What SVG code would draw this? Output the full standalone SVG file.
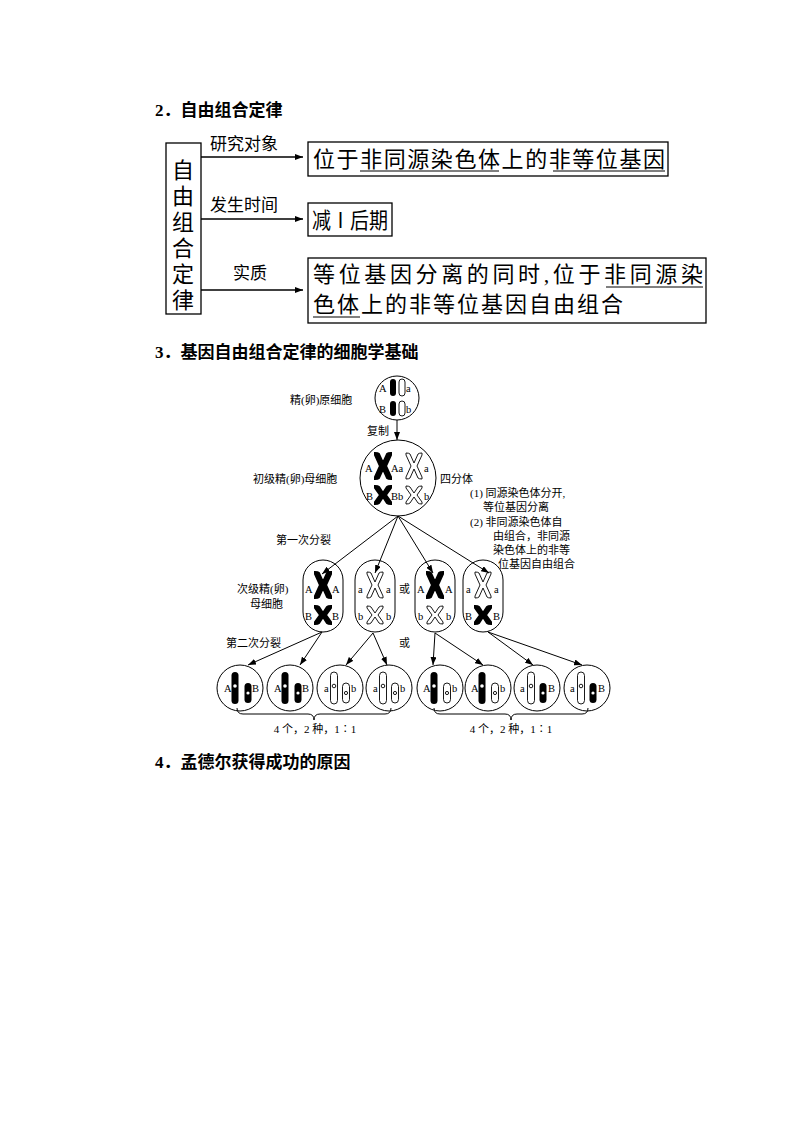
<svg xmlns="http://www.w3.org/2000/svg" width="794" height="1123" viewBox="0 0 794 1123">
<style>
.t{font-family:"Liberation Serif","Noto Sans CJK SC",serif;fill:#000}
.h{font-family:"Liberation Serif","Noto Sans CJK SC",serif;font-weight:bold;font-size:17px}
.b{fill:none;stroke:#000;stroke-width:1.3}
.c{fill:none;stroke:#000;stroke-width:1}
.l{fill:#fff;stroke:#000;stroke-width:0.9}
.k{fill:#000}
.s{font-size:11px}
.g{font-size:10.5px}
</style>
<defs>
<marker id="ar" markerWidth="8" markerHeight="6" refX="8" refY="3" orient="auto" markerUnits="userSpaceOnUse"><path d="M0,0L8,3L0,6z" fill="#000"/></marker>
<g id="bx"><path d="M-8,-13Q-5,-13 -4,-12L0,-3L4,-12Q5,-13 8,-13L8,-11L3,0L8,11L8,13Q5,13 4,12L0,3L-4,12Q-5,13 -8,13L-8,11L-3,0L-8,-11z" class="k" stroke="#000" stroke-width="2"/></g>
<g id="wx"><path d="M-8,-13Q-5,-13 -4,-12L0,-3L4,-12Q5,-13 8,-13L8,-11L3,0L8,11L8,13Q5,13 4,12L0,3L-4,12Q-5,13 -8,13L-8,11L-3,0L-8,-11z" class="l"/></g>
<g id="bxs"><path d="M-8,-9Q-5,-9 -4,-8L0,-2L4,-8Q5,-9 8,-9L8,-7L3,0L8,7L8,9Q5,9 4,8L0,2L-4,8Q-5,9 -8,9L-8,7L-3,0L-8,-7z" class="k" stroke="#000" stroke-width="2"/></g>
<g id="wxs"><path d="M-8,-9Q-5,-9 -4,-8L0,-2L4,-8Q5,-9 8,-9L8,-7L3,0L8,7L8,9Q5,9 4,8L0,2L-4,8Q-5,9 -8,9L-8,7L-3,0L-8,-7z" class="l"/></g>
<g id="bl"><rect x="-3.5" y="-16" width="7" height="32" rx="3.5" class="k"/><circle cx="0" cy="-2" r="1.8" fill="#fff"/></g>
<g id="wl"><rect x="-3.5" y="-16" width="7" height="32" rx="3.5" class="l"/><circle cx="0" cy="-2" r="1.8" class="l"/></g>
<g id="bsh"><rect x="-3.5" y="-10" width="7" height="20" rx="3.5" class="k"/><circle cx="0" cy="0" r="1.6" fill="#fff"/></g>
<g id="wsh"><rect x="-3.5" y="-10" width="7" height="20" rx="3.5" class="l"/><circle cx="0" cy="0" r="1.6" class="l"/></g>
</defs>

<text class="h" x="155" y="116">2．自由组合定律</text>

<g id="law-box">
<rect class="b" x="166" y="143" width="35" height="171"/>
<text class="t" font-size="22" x="172" y="178">自</text>
<text class="t" font-size="22" x="172" y="204">由</text>
<text class="t" font-size="22" x="172" y="230">组</text>
<text class="t" font-size="22" x="172" y="256">合</text>
<text class="t" font-size="22" x="172" y="282">定</text>
<text class="t" font-size="22" x="172" y="308">律</text>
</g>
<g id="conn1">
<line class="b" x1="201" y1="157" x2="303" y2="157" marker-end="url(#ar)"/>
<line class="b" x1="201" y1="219" x2="303" y2="219" marker-end="url(#ar)"/>
<line class="b" x1="201" y1="290" x2="303" y2="290" marker-end="url(#ar)"/>
<text class="t" font-size="17" x="210" y="150">研究对象</text>
<text class="t" font-size="17" x="210" y="211">发生时间</text>
<text class="t" font-size="17" x="233" y="279">实质</text>
</g>
<g id="box1">
<rect class="b" x="308" y="142" width="360" height="34"/>
<text class="t" font-size="22" x="313" y="167" textLength="352" lengthAdjust="spacing">位于非同源染色体上的非等位基因</text>
<line class="c" x1="360" y1="171" x2="499" y2="171"/>
<line class="c" x1="553" y1="171" x2="665" y2="171"/>
</g>
<g id="box2">
<rect class="b" x="308" y="203" width="84" height="33"/>
<text class="t" font-size="22" x="312" y="228" textLength="76" lengthAdjust="spacingAndGlyphs">减Ⅰ后期</text>
</g>
<g id="box3">
<rect class="b" x="308" y="258" width="398" height="65"/>
<text class="t" font-size="22" x="313" y="282" textLength="390" lengthAdjust="spacing">等位基因分离的同时,位于非同源染</text>
<text class="t" font-size="22" x="313" y="312" textLength="310" lengthAdjust="spacing">色体上的非等位基因自由组合</text>
<line class="c" x1="606" y1="287" x2="703" y2="287"/>
<line class="c" x1="313" y1="317" x2="360" y2="317"/>
</g>

<text class="h" x="155" y="358">3．基因自由组合定律的细胞学基础</text>

<g id="cell0">
<circle class="c" cx="397" cy="398" r="22"/>
<rect x="390" y="379" width="6" height="17" rx="3" class="k"/>
<rect x="399" y="379" width="6" height="17" rx="3" class="l"/>
<rect x="390" y="401" width="6" height="15" rx="3" class="k"/>
<rect x="399" y="401" width="6" height="15" rx="3" class="l"/>
<text class="t g" x="379" y="392">A</text><text class="t g" x="406" y="392">a</text>
<text class="t g" x="379" y="413">B</text><text class="t g" x="406" y="413">b</text>
<text class="t s" x="290" y="404">精(卵)原细胞</text>
</g>
<g id="cell1">
<circle class="c" cx="398" cy="478" r="38"/>
<use href="#bx" x="383" y="466"/><use href="#wx" x="414" y="466"/>
<use href="#bxs" x="383" y="495"/><use href="#wxs" x="414" y="495"/>
<text class="t g" x="365" y="472">A</text><text class="t g" x="391" y="472">Aa</text><text class="t g" x="424" y="472">a</text>
<text class="t g" x="366" y="500">B</text><text class="t g" x="391" y="500">Bb</text><text class="t g" x="424" y="500">b</text>
<text class="t s" x="253" y="483">初级精(卵)母细胞</text>
<text class="t s" x="440" y="483">四分体</text>
</g>
<g id="notes">
<text class="t s" x="470" y="497">(1) 同源染色体分开,</text>
<text class="t s" x="483" y="511">等位基因分离</text>
<text class="t s" x="470" y="526">(2) 非同源染色体自</text>
<text class="t s" x="493" y="540">由组合，非同源</text>
<text class="t s" x="493" y="554">染色体上的非等</text>
<text class="t s" x="498" y="568">位基因自由组合</text>
</g>

<g id="sec-cells">
<rect class="c" x="303" y="560" width="40" height="72" rx="20"/>
<use href="#bx" x="323" y="585"/><use href="#bxs" x="323" y="615"/>
<text class="t g" x="305" y="593">A</text><text class="t g" x="332" y="593">A</text>
<text class="t g" x="305" y="620">B</text><text class="t g" x="332" y="620">B</text>
<rect class="c" x="355" y="560" width="40" height="72" rx="20"/>
<use href="#wx" x="375" y="585"/><use href="#wxs" x="375" y="615"/>
<text class="t g" x="358" y="593">a</text><text class="t g" x="386" y="593">a</text>
<text class="t g" x="358" y="620">b</text><text class="t g" x="386" y="620">b</text>
<rect class="c" x="415" y="560" width="40" height="72" rx="20"/>
<use href="#bx" x="435" y="585"/><use href="#wxs" x="435" y="615"/>
<text class="t g" x="417" y="593">A</text><text class="t g" x="445" y="593">A</text>
<text class="t g" x="418" y="620">b</text><text class="t g" x="446" y="620">b</text>
<rect class="c" x="463" y="560" width="40" height="72" rx="20"/>
<use href="#wx" x="483" y="585"/><use href="#bxs" x="483" y="615"/>
<text class="t g" x="466" y="593">a</text><text class="t g" x="494" y="593">a</text>
<text class="t g" x="465" y="620">B</text><text class="t g" x="493" y="620">B</text>
<text class="t s" x="237" y="593">次级精(卵)</text>
<text class="t s" x="250" y="608">母细胞</text>
<text class="t s" x="399" y="593">或</text>
</g>

<g id="gametes">
<circle class="c" cx="240" cy="688" r="23"/><use href="#bl" x="235" y="688"/><use href="#bsh" x="248" y="693"/><text class="t g" x="224" y="692">A</text><text class="t g" x="252" y="692">B</text>
<circle class="c" cx="290" cy="688" r="23"/><use href="#bl" x="285" y="688"/><use href="#bsh" x="298" y="693"/><text class="t g" x="274" y="692">A</text><text class="t g" x="302" y="692">B</text>
<circle class="c" cx="340" cy="688" r="23"/><use href="#wl" x="334" y="688"/><use href="#wsh" x="346" y="693"/><text class="t g" x="324" y="692">a</text><text class="t g" x="351" y="692">b</text>
<circle class="c" cx="389" cy="688" r="23"/><use href="#wl" x="383" y="688"/><use href="#wsh" x="395" y="693"/><text class="t g" x="373" y="692">a</text><text class="t g" x="400" y="692">b</text>
<circle class="c" cx="440" cy="688" r="23"/><use href="#bl" x="434" y="688"/><use href="#wsh" x="447" y="693"/><text class="t g" x="423" y="692">A</text><text class="t g" x="452" y="692">b</text>
<circle class="c" cx="488" cy="688" r="23"/><use href="#bl" x="482" y="688"/><use href="#wsh" x="495" y="693"/><text class="t g" x="471" y="692">A</text><text class="t g" x="500" y="692">b</text>
<circle class="c" cx="537" cy="688" r="23"/><use href="#wl" x="531" y="688"/><use href="#bsh" x="543" y="693"/><text class="t g" x="520" y="692">a</text><text class="t g" x="548" y="692">B</text>
<circle class="c" cx="587" cy="688" r="23"/><use href="#wl" x="581" y="688"/><use href="#bsh" x="593" y="693"/><text class="t g" x="570" y="692">a</text><text class="t g" x="598" y="692">B</text>
<path class="c" d="M237,708Q237,714 243,714L308,714Q314,714 314,720Q314,714 320,714L385,714Q391,714 391,708"/>
<path class="c" d="M434,708Q434,714 440,714L505,714Q511,714 511,720Q511,714 517,714L582,714Q588,714 588,708"/>
<text class="t s" x="315" y="733" text-anchor="middle">4 个，2 种，1∶1</text>
<text class="t s" x="511" y="733" text-anchor="middle">4 个，2 种，1∶1</text>
<text class="t s" x="226" y="647">第二次分裂</text>
<text class="t s" x="399" y="647">或</text>
</g>

<g id="connectors">
<line class="c" x1="397" y1="420" x2="397" y2="440" marker-end="url(#ar)"/>
<text class="t s" x="367" y="435">复制</text>
<line class="c" x1="398" y1="516" x2="322" y2="574" marker-end="url(#ar)"/>
<line class="c" x1="398" y1="516" x2="375" y2="573" marker-end="url(#ar)"/>
<line class="c" x1="398" y1="516" x2="433" y2="573" marker-end="url(#ar)"/>
<line class="c" x1="398" y1="516" x2="489" y2="573" marker-end="url(#ar)"/>
<text class="t s" x="276" y="544">第一次分裂</text>
<line class="c" x1="322" y1="632" x2="248" y2="665" marker-end="url(#ar)"/>
<line class="c" x1="322" y1="632" x2="300" y2="665" marker-end="url(#ar)"/>
<line class="c" x1="373" y1="633" x2="346" y2="665" marker-end="url(#ar)"/>
<line class="c" x1="373" y1="633" x2="387" y2="665" marker-end="url(#ar)"/>
<line class="c" x1="435" y1="633" x2="433" y2="665" marker-end="url(#ar)"/>
<line class="c" x1="435" y1="633" x2="483" y2="665" marker-end="url(#ar)"/>
<line class="c" x1="488" y1="632" x2="533" y2="665" marker-end="url(#ar)"/>
<line class="c" x1="488" y1="632" x2="582" y2="665" marker-end="url(#ar)"/>
</g>

<text class="h" x="155" y="768">4．孟德尔获得成功的原因</text>
</svg>
